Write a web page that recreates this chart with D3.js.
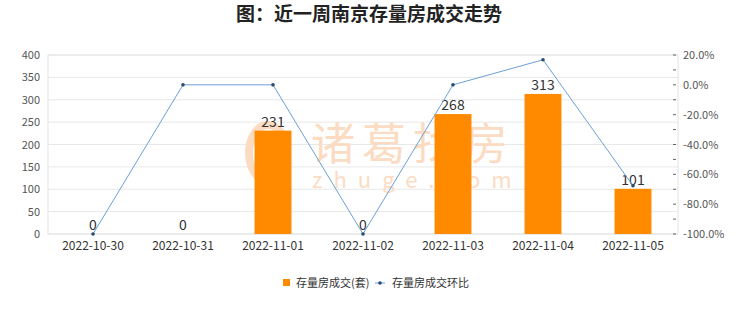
<!DOCTYPE html>
<html>
<head>
<meta charset="utf-8">
<script src="https://cdn.jsdelivr.net/npm/d3@7"></script>
<style>
  body { margin: 0; background: #fff; }
  svg { display: block; font-family: "Noto Sans CJK SC", "Noto Sans", sans-serif; }
</style>
</head>
<body>
<svg id="chart" width="740" height="312"></svg>
<script>
const dates = ['2022-10-30', '2022-10-31', '2022-11-01', '2022-11-02', '2022-11-03', '2022-11-04', '2022-11-05'];
const volumes = [0, 0, 231, 0, 268, 313, 101];
const ratios = [-1, 0, 0, -1, 0, 0.168, -0.677];
const leftTicks = [0, 50, 100, 150, 200, 250, 300, 350, 400];
const rightTicks = [-1, -0.9, -0.8, -0.7, -0.6, -0.5, -0.4, -0.3, -0.2, -0.1, 0, 0.1, 0.2];

const svg = d3.select('#chart');
const margin = { left: 48, right: 62, top: 55, bottom: 78 };
const width = 740, height = 312;

const x = d3.scaleBand().domain(dates).range([margin.left, width - margin.right]).padding(0);
const yL = d3.scaleLinear().domain([0, 400]).range([height - margin.bottom, margin.top]);
const yR = d3.scaleLinear().domain([-1, 0.2]).range([height - margin.bottom, margin.top]);

// title
svg.append('text')
  .attr('x', 369).attr('y', 21)
  .attr('text-anchor', 'middle')
  .attr('font-size', 19).attr('font-weight', 'bold').attr('fill', '#222')
  .text('图：近一周南京存量房成交走势');

// grid
svg.append('g').selectAll('line')
  .data(leftTicks)
  .join('line')
  .attr('x1', margin.left).attr('x2', width - margin.right)
  .attr('y1', d => yL(d)).attr('y2', d => yL(d))
  .attr('stroke', '#e8e8e8');

svg.append('rect')
  .attr('x', margin.left).attr('y', margin.top)
  .attr('width', width - margin.left - margin.right)
  .attr('height', height - margin.top - margin.bottom)
  .attr('fill', 'none').attr('stroke', '#e4e4e4');

// watermark (behind the bars)
const wm = svg.append('g').attr('fill', '#fbdcc2');
wm.append('ellipse').attr('cx', 268).attr('cy', 153).attr('rx', 19).attr('ry', 28)
  .attr('fill', 'none').attr('stroke', '#fbdcc2').attr('stroke-width', 8);
wm.append('text').attr('x', 311).attr('y', 160).attr('font-size', 44)
  .attr('letter-spacing', 7).text('诸葛找房');
wm.append('text').attr('x', 312).attr('y', 188).attr('font-size', 22)
  .attr('letter-spacing', 11).text('zhuge.com');

// left axis
svg.append('g').selectAll('text')
  .data(leftTicks)
  .join('text')
  .attr('x', 40).attr('y', d => yL(d) + 4)
  .attr('text-anchor', 'end').attr('font-size', 11).attr('fill', '#555')
  .text(d => d);

// right axis
const rAxis = svg.append('g');
rAxis.selectAll('line')
  .data(rightTicks)
  .join('line')
  .attr('x1', width - margin.right - 5).attr('x2', width - margin.right - 2)
  .attr('y1', d => yR(d)).attr('y2', d => yR(d))
  .attr('stroke', '#666');
rAxis.selectAll('text')
  .data(rightTicks.filter((d, i) => i % 2 === 0))
  .join('text')
  .attr('x', width - margin.right + 5).attr('y', d => yR(d) + 4)
  .attr('font-size', 11).attr('fill', '#555')
  .text(d => d3.format('.1%')(d).replace('−', '-'));

// x labels
svg.append('g').selectAll('text')
  .data(dates)
  .join('text')
  .attr('x', d => x(d) + x.bandwidth() / 2).attr('y', height - margin.bottom + 16)
  .attr('text-anchor', 'middle').attr('font-size', 12).attr('fill', '#333')
  .text(d => d);

// bars
const barW = x.bandwidth() * 0.41;
svg.append('g').selectAll('rect')
  .data(dates)
  .join('rect')
  .attr('x', d => x(d) + (x.bandwidth() - barW) / 2)
  .attr('y', (d, i) => yL(volumes[i]))
  .attr('width', barW)
  .attr('height', (d, i) => yL(0) - yL(volumes[i]))
  .attr('fill', '#ff8a00');

// bar labels
svg.append('g').selectAll('text')
  .data(dates)
  .join('text')
  .attr('x', d => x(d) + x.bandwidth() / 2)
  .attr('y', (d, i) => yL(volumes[i]) - 4)
  .attr('text-anchor', 'middle').attr('font-size', 14).attr('fill', '#333')
  .text((d, i) => volumes[i]);

// line
const line = d3.line()
  .x((d, i) => x(dates[i]) + x.bandwidth() / 2)
  .y(d => yR(d));
svg.append('path')
  .datum(ratios)
  .attr('d', line)
  .attr('fill', 'none').attr('stroke', '#6d9fd6').attr('stroke-width', 1);
svg.append('g').selectAll('circle')
  .data(ratios)
  .join('circle')
  .attr('cx', (d, i) => x(dates[i]) + x.bandwidth() / 2)
  .attr('cy', d => yR(d))
  .attr('r', 1.8).attr('fill', '#2b4a70');

// legend
const lg = svg.append('g').attr('font-size', 11).attr('fill', '#333');
lg.append('rect').attr('x', 283).attr('y', 279).attr('width', 7).attr('height', 7).attr('fill', '#ff8a00');
lg.append('text').attr('x', 296).attr('y', 287).text('存量房成交(套)');
lg.append('line').attr('x1', 375).attr('x2', 385).attr('y1', 283).attr('y2', 283).attr('stroke', '#6d9fd6');
lg.append('circle').attr('cx', 380).attr('cy', 283).attr('r', 1.8).attr('fill', '#2b4a70');
lg.append('text').attr('x', 392).attr('y', 287).text('存量房成交环比');
</script>
</body>
</html>
